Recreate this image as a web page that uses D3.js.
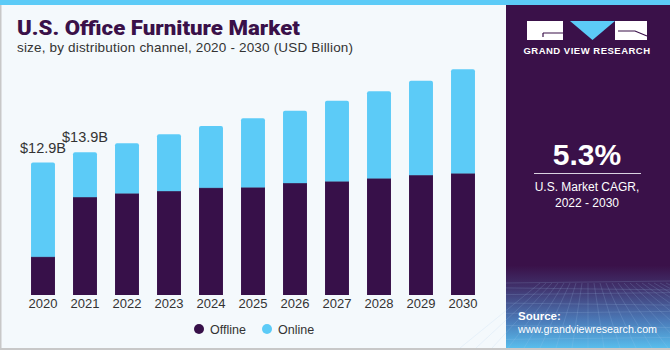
<!DOCTYPE html>
<html><head><meta charset="utf-8">
<script src="https://cdn.jsdelivr.net/npm/d3@7"></script>
<style>
html,body{margin:0;padding:0;background:#fff;}
svg{display:block;}
</style></head>
<body>
<svg id="c" width="670" height="350"></svg>
<script>
const years = ["2020","2021","2022","2023","2024","2025","2026","2027","2028","2029","2030"];
const offline = [3.73, 9.54, 9.90, 10.13, 10.45, 10.49, 10.91, 11.07, 11.36, 11.68, 11.85];
const online  = [9.17, 4.36, 4.87, 5.52, 6.01, 6.71, 7.04, 7.85, 8.47, 9.19, 10.13];
const seriesNames = ["Offline", "Online"];
const totalLabels = ["$12.9B", "$13.9B"];
const cagr = "5.3%";

const colors = {Offline: "#371049", Online: "#5ccbf7"};
const svg = d3.select("#c");
const W = 670, H = 350;

// background
svg.append("rect").attr("width", W).attr("height", H).attr("fill", "#f4f9fc");
svg.append("rect").attr("x", 0).attr("y", 0).attr("width", 1.5).attr("height", H).attr("fill", "#c8c8c8");
svg.append("rect").attr("x", 0).attr("y", H - 2).attr("width", W).attr("height", 2).attr("fill", "#c8c8c8");

// right panel
const defs = svg.append("defs");
const g1 = defs.append("linearGradient").attr("id", "pg").attr("x1", 0).attr("y1", 0).attr("x2", 0).attr("y2", 1);
g1.append("stop").attr("offset", "0").attr("stop-color", "#3a1149");
g1.append("stop").attr("offset", "0.76").attr("stop-color", "#3a1149");
g1.append("stop").attr("offset", "0.82").attr("stop-color", "#40306a");
g1.append("stop").attr("offset", "0.92").attr("stop-color", "#4b7ab8");
g1.append("stop").attr("offset", "1").attr("stop-color", "#58bdec");
const px0 = 506, py0 = 5, pw = W - px0, ph = H - 2 - py0;
svg.append("rect").attr("x", px0).attr("y", py0).attr("width", pw).attr("height", ph).attr("fill", "url(#pg)");

// faint grid texture on panel bottom
const grid = svg.append("g").attr("stroke", "#a9cdf0").attr("stroke-opacity", 0.25).attr("stroke-width", 0.7).attr("fill", "none");
for (let i = 0; i < 9; i++) {
  const yy = 283 + i * i * 0.9 + i * 4;
  grid.append("line").attr("x1", px0).attr("x2", W).attr("y1", yy).attr("y2", yy + (i % 2 ? 2 : -2));
}
for (let i = -8; i <= 16; i++) {
  const xt = 588 + i * 6, xb = 588 + i * 16;
  grid.append("line").attr("x1", xt).attr("y1", 283).attr("x2", xb).attr("y2", H - 2);
}

// top blue strip
svg.append("rect").attr("x", 0).attr("y", 0).attr("width", W).attr("height", 5).attr("fill", "#5ccbf7");

// titles
svg.append("text").attr("x", 17).attr("y", 35).text("U.S. Office Furniture Market")
  .attr("font-family", "Roboto, 'Liberation Sans', sans-serif").attr("font-weight", 900)
  .attr("font-size", 20.5).attr("fill", "#3a1149")
  .attr("textLength", 283).attr("lengthAdjust", "spacingAndGlyphs");
svg.append("text").attr("x", 17).attr("y", 52).text("size, by distribution channel, 2020 - 2030 (USD Billion)")
  .attr("font-family", "'Liberation Sans', Arial, sans-serif")
  .attr("font-size", 13.5).attr("fill", "#333")
  .attr("textLength", 336).attr("lengthAdjust", "spacing");

// scales
const x = d3.scaleBand().domain(years).range([22, 484]).paddingInner(0.43).paddingOuter(0.215);
const y = d3.scaleLinear().domain([0, 22]).range([295, 295 - 22 * 10.27]);

const data = years.map((yr, i) => ({year: yr, Offline: offline[i], Online: online[i]}));
const stacked = d3.stack().keys(seriesNames)(data);

const bars = svg.append("g");
stacked.forEach(layer => {
  const key = layer.key;
  layer.forEach(d => {
    const x0 = x(d.data.year), bw = x.bandwidth();
    const yt = y(d[1]), yb = y(d[0]);
    if (key === "Online") {
      const r = 2;
      const p = `M${x0},${yb}V${yt + r}Q${x0},${yt} ${x0 + r},${yt}H${x0 + bw - r}Q${x0 + bw},${yt} ${x0 + bw},${yt + r}V${yb}Z`;
      bars.append("path").attr("d", p).attr("fill", colors[key]);
    } else {
      bars.append("rect").attr("x", x0).attr("y", yt).attr("width", bw).attr("height", yb - yt).attr("fill", colors[key]);
      bars.append("rect").attr("x", x0).attr("y", yt - 0.5).attr("width", bw).attr("height", 1).attr("fill", "#4b5f8c");
    }
  });
});

// total labels
totalLabels.forEach((t, i) => {
  const tot = offline[i] + online[i];
  svg.append("text").attr("x", x(years[i]) + x.bandwidth() / 2).attr("y", y(tot) - 10)
    .attr("text-anchor", "middle").text(t)
    .attr("font-family", "'Liberation Sans', Arial, sans-serif").attr("font-size", 14.5).attr("fill", "#333");
});

// x axis
const xa = svg.append("g").attr("transform", "translate(0,295)")
  .call(d3.axisBottom(x).tickSize(0).tickPadding(4));
xa.select(".domain").remove();
xa.selectAll("text").attr("font-family", "'Liberation Sans', Arial, sans-serif").attr("font-size", 13).attr("fill", "#333").attr("dy", "0.71em").attr("y", 4);

// legend
const leg = svg.append("g");
const legX = [199, 267];
seriesNames.forEach((s, i) => {
  leg.append("circle").attr("cx", legX[i]).attr("cy", 329).attr("r", 5).attr("fill", colors[s]);
  leg.append("text").attr("x", legX[i] + 11).attr("y", 333.5).text(s)
    .attr("font-family", "'Liberation Sans', Arial, sans-serif").attr("font-size", 12.5).attr("fill", "#333");
});

// logo
const logo = svg.append("g");
logo.append("rect").attr("x", 527).attr("y", 21).attr("width", 36).attr("height", 19).attr("fill", "#fff");
logo.append("path").attr("d", "M543,33H563M543,33V37").attr("stroke", "#3a1149").attr("stroke-width", 1.2).attr("fill", "none");
logo.append("path").attr("d", "M570,21H615L592.5,40Z").attr("fill", "#5ccbf7");
logo.append("rect").attr("x", 615).attr("y", 21).attr("width", 32).attr("height", 19).attr("fill", "#fff");
logo.append("path").attr("d", "M618,31H635L647,36").attr("stroke", "#3a1149").attr("stroke-width", 1.2).attr("fill", "none");
svg.append("text").attr("x", 587).attr("y", 54).attr("text-anchor", "middle").text("GRAND VIEW RESEARCH")
  .attr("font-family", "'Liberation Sans', Arial, sans-serif").attr("font-weight", "bold")
  .attr("font-size", 9.5).attr("letter-spacing", 0.5).attr("fill", "#fff");

// CAGR
svg.append("text").attr("x", 587).attr("y", 165).attr("text-anchor", "middle").text(cagr)
  .attr("font-family", "'Liberation Sans', Arial, sans-serif").attr("font-weight", "bold")
  .attr("font-size", 30).attr("fill", "#fff");
svg.append("line").attr("x1", 534).attr("x2", 641).attr("y1", 173.5).attr("y2", 173.5).attr("stroke", "#d9d2e0").attr("stroke-width", 1.2);
svg.append("text").attr("x", 587).attr("y", 191).attr("text-anchor", "middle").text("U.S. Market CAGR,")
  .attr("font-family", "'Liberation Sans', Arial, sans-serif").attr("font-size", 12).attr("fill", "#fff");
svg.append("text").attr("x", 587).attr("y", 207).attr("text-anchor", "middle").text("2022 - 2030")
  .attr("font-family", "'Liberation Sans', Arial, sans-serif").attr("font-size", 12).attr("fill", "#fff");

// source
svg.append("text").attr("x", 518).attr("y", 320).text("Source:")
  .attr("font-family", "'Liberation Sans', Arial, sans-serif").attr("font-weight", "bold").attr("font-size", 11.5).attr("fill", "#fff");
svg.append("text").attr("x", 518).attr("y", 333).text("www.grandviewresearch.com")
  .attr("font-family", "'Liberation Sans', Arial, sans-serif").attr("font-size", 11.5).attr("fill", "#fff")
  .attr("textLength", 139).attr("lengthAdjust", "spacingAndGlyphs");
</script>
</body></html>
